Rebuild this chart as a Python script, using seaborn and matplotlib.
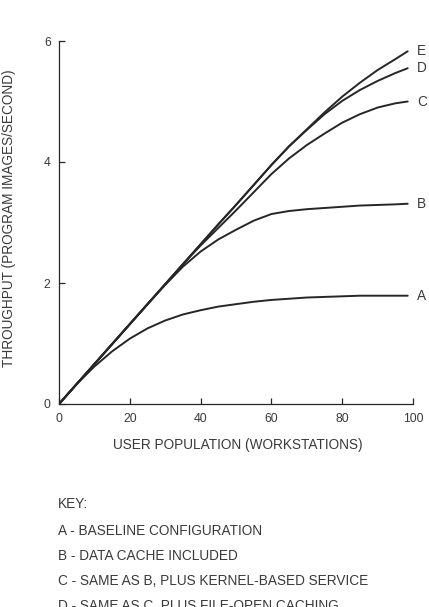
import pandas as pd
import matplotlib
matplotlib.use("Agg")
import matplotlib.pyplot as plt
import seaborn as sns

# ===== data =====
users = [0, 5, 10, 15, 20, 25, 30, 35, 40, 45, 50, 55, 60, 65, 70, 75, 80, 85, 90, 95, 98.5]

thr_a = [0, 0.33, 0.62, 0.87, 1.08, 1.25, 1.38, 1.48, 1.55, 1.61, 1.65, 1.69, 1.72, 1.74, 1.76, 1.77, 1.78, 1.79, 1.79, 1.79, 1.79]
thr_b = [0, 0.33, 0.66, 0.99, 1.32, 1.65, 1.97, 2.27, 2.52, 2.72, 2.88, 3.03, 3.14, 3.19, 3.22, 3.24, 3.26, 3.28, 3.29, 3.30, 3.31]
thr_c = [0, 0.33, 0.66, 0.99, 1.32, 1.65, 1.98, 2.31, 2.62, 2.91, 3.20, 3.50, 3.80, 4.06, 4.28, 4.47, 4.65, 4.79, 4.90, 4.97, 5.00]
thr_d = [0, 0.33, 0.66, 0.99, 1.32, 1.65, 1.98, 2.31, 2.64, 2.97, 3.29, 3.62, 3.95, 4.26, 4.53, 4.79, 5.01, 5.19, 5.34, 5.47, 5.55]
thr_e = [0, 0.33, 0.66, 0.99, 1.32, 1.65, 1.98, 2.31, 2.64, 2.97, 3.29, 3.62, 3.95, 4.26, 4.54, 4.82, 5.08, 5.31, 5.52, 5.70, 5.83]

configs = ["A", "B", "C", "D", "E"]
key_lines = [
    "A - BASELINE CONFIGURATION",
    "B - DATA CACHE INCLUDED",
    "C - SAME AS B, PLUS KERNEL-BASED SERVICE",
    "D - SAME AS C, PLUS FILE-OPEN CACHING",
]

x_ticks = [0, 20, 40, 60, 80, 100]
y_ticks = [0, 2, 4, 6]

# ===== style =====
LINE_COLOR = "#262626"
TEXT_COLOR = "#3a3a3a"
FONT_TICK = 8.8
FONT_LABEL = 9.8
FONT_KEY = 9.85

sns.set_theme(style="ticks")
plt.rcParams["font.family"] = ["Liberation Sans", "DejaVu Sans"]

df = pd.DataFrame({
    "users": users * 5,
    "throughput": thr_a + thr_b + thr_c + thr_d + thr_e,
    "config": [c for c in configs for _ in users],
})

fig = plt.figure(figsize=(4.29, 6.07), dpi=100)
ax = fig.add_axes([59 / 429, 1 - 404 / 607, 354 / 429, 363 / 607])

sns.lineplot(
    data=df, x="users", y="throughput", hue="config",
    palette=[LINE_COLOR] * 5, linewidth=1.4, legend=False, ax=ax,
)

ax.set_xlim(0, 100)
ax.set_ylim(0, 6)
ax.set_xticks(x_ticks)
ax.set_yticks(y_ticks)
ax.tick_params(axis="both", direction="in", length=4, width=0.9,
               colors=LINE_COLOR, labelcolor=TEXT_COLOR, labelsize=FONT_TICK)
ax.tick_params(axis="x", pad=6.5)
ax.tick_params(axis="y", pad=6)
for side in ["left", "bottom"]:
    ax.spines[side].set_color(LINE_COLOR)
    ax.spines[side].set_linewidth(0.9)
sns.despine(ax=ax)

ax.set_xlabel("USER POPULATION (WORKSTATIONS)", fontsize=FONT_LABEL, color=TEXT_COLOR, va="center")
ax.set_ylabel("THROUGHPUT (PROGRAM IMAGES/SECOND)", fontsize=FONT_LABEL, color=TEXT_COLOR, va="center")
ax.xaxis.set_label_coords(0.506, -0.113)
ax.yaxis.set_label_coords(-0.141, 0.512)

# curve labels at the right end of each line
ends = {"A": thr_a[-1], "B": thr_b[-1], "C": thr_c[-1], "D": thr_d[-1], "E": thr_e[-1]}
for name, val in ends.items():
    ax.text(101.2, val, name, fontsize=FONT_KEY, color=TEXT_COLOR, va="center", ha="left")

# key below the plot
fig.text(58 / 429, 1 - 508 / 607, "KEY:", fontsize=FONT_KEY, color=TEXT_COLOR, va="baseline")
for i, line in enumerate(key_lines):
    y_px = 535 + 25 * i
    fig.text(58 / 429, 1 - y_px / 607, line, fontsize=FONT_KEY, color=TEXT_COLOR, va="baseline")

fig.savefig("out.png", dpi=100)
